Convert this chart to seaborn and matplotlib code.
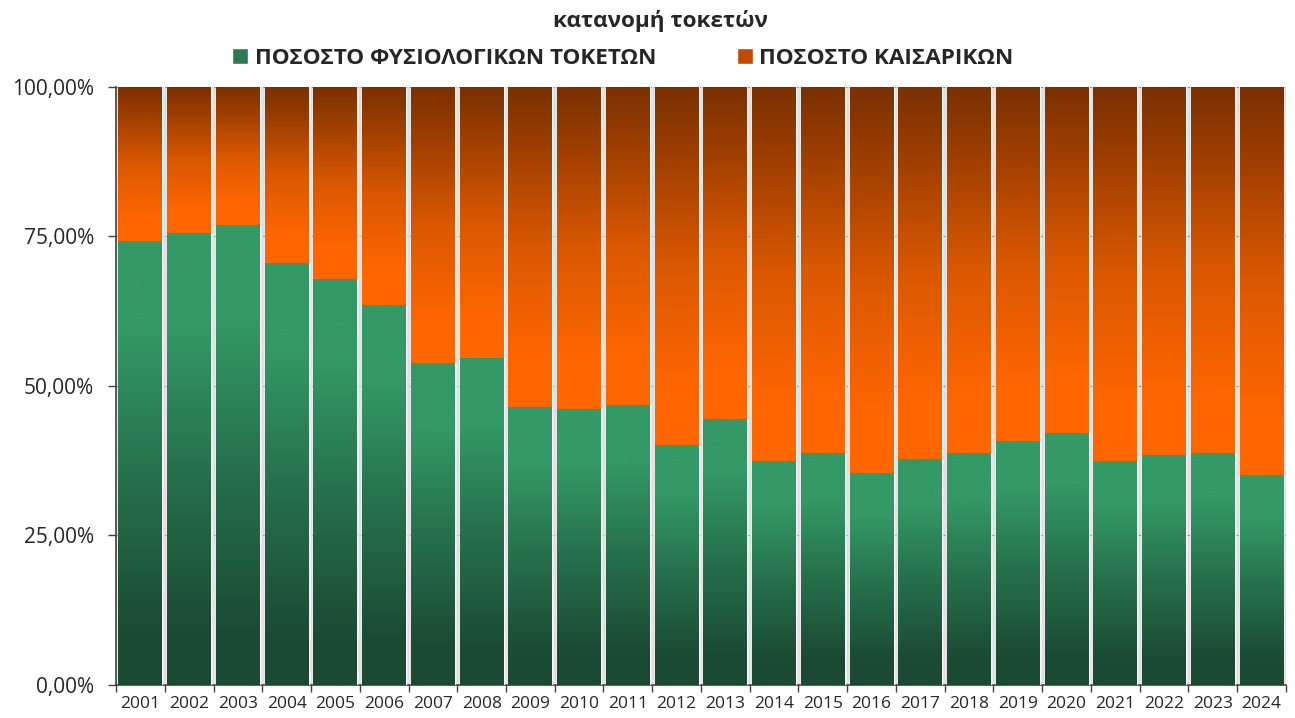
import matplotlib
matplotlib.use("Agg")
import matplotlib.pyplot as plt
import matplotlib.colors as mcolors
from matplotlib.patches import Patch
from matplotlib.ticker import FixedLocator, FuncFormatter
import seaborn as sns
import numpy as np
import pandas as pd

# values (percent)
years = ["2001", "2002", "2003", "2004", "2005", "2006", "2007", "2008",
         "2009", "2010", "2011", "2012", "2013", "2014", "2015", "2016",
         "2017", "2018", "2019", "2020", "2021", "2022", "2023", "2024"]
natural = [74.2, 75.6, 76.9, 70.6, 67.9, 63.5, 53.8, 54.7,
           46.5, 46.2, 46.8, 40.1, 44.5, 37.5, 38.8, 35.5,
           37.8, 38.8, 40.8, 42.1, 37.5, 38.5, 38.8, 35.1]
caesarean = [25.8, 24.4, 23.1, 29.4, 32.1, 36.5, 46.2, 45.3,
             53.5, 53.8, 53.2, 59.9, 55.5, 62.5, 61.2, 64.5,
             62.2, 61.2, 59.2, 57.9, 62.5, 61.5, 61.2, 64.9]

LABEL_NAT = "ΠΟΣΟΣΤΟ ΦΥΣΙΟΛΟΓΙΚΩΝ ΤΟΚΕΤΩΝ"
LABEL_CS = "ΠΟΣΟΣΤΟ ΚΑΙΣΑΡΙΚΩΝ"
TITLE = "κατανομή τοκετών"

# gradient stops, bottom (0) -> top (1) of each segment
GREEN_STOPS = [(0.0, "#1B4A32"), (0.12, "#1B4B33"), (0.5, "#27744E"),
               (0.8, "#339966"), (1.0, "#339966")]
ORANGE_STOPS = [(0.0, "#FF6600"), (0.15, "#FF6600"), (0.5, "#DA5800"),
                (0.8, "#A03F00"), (1.0, "#7A3000")]

sns.set_style("ticks")
plt.rcParams["font.family"] = ["Open Sans", "DejaVu Sans"]


def _gradient(stops, n=256):
    cmap = mcolors.LinearSegmentedColormap.from_list("g", stops)
    return cmap(np.linspace(0, 1, n))[:, None, :3]


df = pd.DataFrame({"year": years, "natural": natural, "caesarean": caesarean})
df["total"] = df["natural"] + df["caesarean"]

fig, ax = plt.subplots(figsize=(12.95, 7.18), dpi=100)
fig.subplots_adjust(left=0.0896, right=0.993, bottom=0.046, top=0.879)
ax.set_facecolor("#E0E0E0")

sns.barplot(data=df, x="year", y="total", color="#FF6600", width=0.9,
            ax=ax, zorder=2, errorbar=None)
sns.barplot(data=df, x="year", y="natural", color="#339966", width=0.9,
            ax=ax, zorder=3, errorbar=None)

n = len(years)
cs_bars, nat_bars = ax.patches[:n], ax.patches[n:]
grad_cs = _gradient(ORANGE_STOPS)
grad_nat = _gradient(GREEN_STOPS)
for p_cs, p_nat in zip(cs_bars, nat_bars):
    x0, w = p_nat.get_x(), p_nat.get_width()
    split = p_nat.get_height()
    top = p_cs.get_height()
    ax.imshow(grad_nat, extent=[x0, x0 + w, 0, split], origin="lower",
              aspect="auto", interpolation="bilinear", zorder=3.5)
    ax.imshow(grad_cs, extent=[x0, x0 + w, split, top], origin="lower",
              aspect="auto", interpolation="bilinear", zorder=3.5)

ax.set_xlim(-0.5, n - 0.5)
ax.set_ylim(0, 100)
ax.set_xlabel(""); ax.set_ylabel("")

ax.yaxis.set_major_locator(FixedLocator([0, 25, 50, 75, 100]))
ax.yaxis.set_major_formatter(FuncFormatter(lambda v, _: f"{v:.2f}".replace(".", ",") + "%"))
ax.grid(axis="y", color="#8C8C8C", linestyle=(0, (2, 2)), linewidth=0.8)
ax.set_axisbelow(True)

ax.xaxis.set_minor_locator(FixedLocator(np.arange(-0.5, n, 1.0)))
ax.tick_params(axis="x", which="major", length=0, labelsize=12.5, pad=8)
ax.tick_params(axis="x", which="minor", length=5, width=1, color="#404040")
ax.tick_params(axis="y", which="major", length=6, width=1, color="#404040",
               labelsize=15, pad=10)

sns.despine(ax=ax, top=True, right=True)
for s in ("left", "bottom"):
    ax.spines[s].set_color("#404040")
    ax.spines[s].set_linewidth(1.2)

fig.text(0.51, 0.971, TITLE, ha="center", va="center",
         fontsize=16.2, fontweight="bold")
handles = [Patch(facecolor="#2A7A52", label=LABEL_NAT),
           Patch(facecolor="#C24A00", label=LABEL_CS)]
fig.legend(handles=handles, loc="center", bbox_to_anchor=(0.481, 0.919), ncol=2,
           frameon=False, prop={"size": 16.2, "weight": "bold"},
           handlelength=0.7, handleheight=0.7, handletextpad=0.3,
           columnspacing=3.6)

fig.savefig("out.png", dpi=100)
plt.close(fig)
